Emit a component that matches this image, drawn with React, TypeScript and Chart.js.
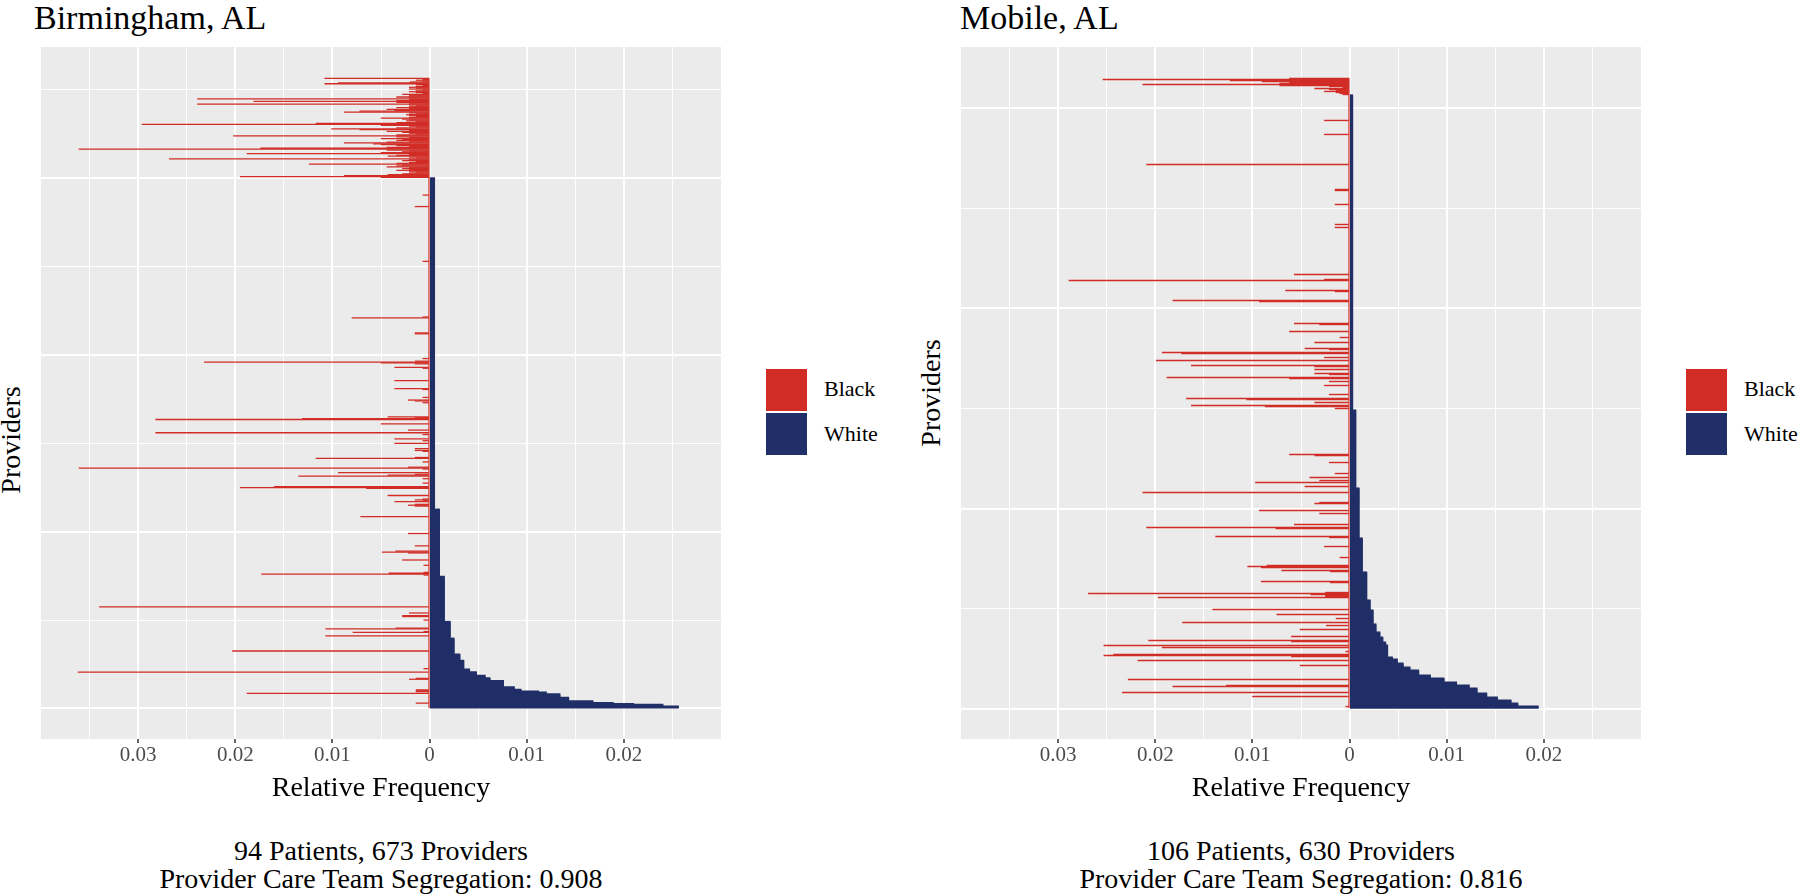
import React, { useEffect, useRef } from 'react';
import { Chart, registerables } from 'chart.js';

Chart.register(...registerables);

const RED = '#D12D26';
const NAVY = '#202F67';
const PANEL_BG = '#EBEBEB';
const FONT = "'Liberation Serif', 'Times New Roman', Times, serif";

// ---------------- Birmingham, AL ----------------
const bhmTitle = 'Birmingham, AL';
const bhmCaption = ['94 Patients, 673 Providers', 'Provider Care Team Segregation: 0.908'];
const bhmProviderCount = 713;
// providers with Black patients only, listed from the top row downwards
const bhmBlackOnly = [
  0.0108, 0.0007, 0.0014, 0.0007, 0.0020, 0.0094, 0.0108, 0.0014, 0.0007, 0.0014,
  0.0021, 0.0014, 0.0021, 0.0007, 0.0014, 0.0021, 0.0014, 0.0007, 0.0028, 0.0021,
  0.0021, 0.0034, 0.0021, 0.0239, 0.0021, 0.0034, 0.0181, 0.0034, 0.0021, 0.0239,
  0.0021, 0.0014, 0.0021, 0.0034, 0.0021, 0.0044, 0.0036, 0.0072, 0.0088, 0.0021,
  0.0014, 0.0024, 0.0021, 0.0014, 0.0021, 0.0050, 0.0028, 0.0021, 0.0024, 0.0014,
  0.0034, 0.0117, 0.0296, 0.0050, 0.0021, 0.0014, 0.0034, 0.0101, 0.0072, 0.0021,
  0.0044, 0.0028, 0.0021, 0.0014, 0.0034, 0.0202, 0.0034, 0.0021, 0.0050, 0.0028,
  0.0034, 0.0021, 0.0044, 0.0088, 0.0058, 0.0050, 0.0034, 0.0021, 0.0044, 0.0174,
  0.0361, 0.0044, 0.0021, 0.0028, 0.0050, 0.0188, 0.0021, 0.0034, 0.0043, 0.0021,
  0.0014, 0.0268, 0.0021, 0.0028, 0.0014, 0.0021, 0.0034, 0.0124, 0.0028, 0.0034,
  0.0044, 0.0021, 0.0028, 0.0021, 0.0034, 0.0021, 0.0014, 0.0021, 0.0028, 0.0043,
  0.0088, 0.0195, 0.0050,
];
// White relative frequency, runs of equal values starting from the bottom provider
const bhmWhiteRunValues = [
  0.0256, 0.0240, 0.0210, 0.0189, 0.0168, 0.0143, 0.0134, 0.0120, 0.0112, 0.0094,
  0.0087, 0.0076, 0.0062, 0.0057, 0.0048, 0.0041, 0.0035, 0.0031, 0.0025, 0.0021,
  0.0015, 0.0010, 0.0005,
];
const bhmWhiteRunLengths = [2, 2, 1, 1, 2, 4, 4, 2, 1, 2, 3, 7, 3, 3, 4, 3, 10, 7, 18, 19, 51, 76, 375];
// Black relative frequency of providers that also see White patients (provider rank from bottom)
const bhmMixedRanks = [
  581, 568, 506, 443, 442, 425, 424, 396, 393, 392, 391, 390, 386, 385, 371, 362, 361, 352, 349, 348,
  346, 330, 329, 328, 327, 322, 315, 312, 310, 305, 303, 300, 294, 292, 291, 284, 283, 279, 273, 272,
  271, 267, 265, 264, 263, 260, 255, 251, 250, 249, 241, 237, 236, 235, 234, 231, 230, 229, 217, 198,
  184, 178, 177, 176, 168, 162, 154, 153, 152, 151, 115, 108, 105, 104, 100, 91, 90, 87, 86, 82,
  65, 45, 41, 34, 33, 21, 20, 19, 17, 6,
];
const bhmMixedBlack = [
  0.0007, 0.0015, 0.0007, 0.0007, 0.0080, 0.0015, 0.0015, 0.0007, 0.0015, 0.0232,
  0.0050, 0.0015, 0.0036, 0.0007, 0.0036, 0.0036, 0.0007, 0.0007, 0.0022, 0.0015,
  0.0007, 0.0043, 0.0015, 0.0131, 0.0282, 0.0050, 0.0022, 0.0282, 0.0007, 0.0036,
  0.0007, 0.0036, 0.0015, 0.0015, 0.0007, 0.0015, 0.0117, 0.0007, 0.0022, 0.0361,
  0.0007, 0.0094, 0.0015, 0.0043, 0.0135, 0.0007, 0.0007, 0.0160, 0.0195, 0.0065,
  0.0043, 0.0007, 0.0015, 0.0007, 0.0036, 0.0015, 0.0022, 0.0015, 0.0071, 0.0022,
  0.0015, 0.0035, 0.0049, 0.0022, 0.0028, 0.0006, 0.0006, 0.0042, 0.0173, 0.0006,
  0.0340, 0.0021, 0.0028, 0.0028, 0.0006, 0.0035, 0.0107, 0.0006, 0.0079, 0.0107,
  0.0203, 0.0006, 0.0362, 0.0014, 0.0021, 0.0014, 0.0014, 0.0014, 0.0188, 0.0014,
];

// ---------------- Mobile, AL ----------------
const mobTitle = 'Mobile, AL';
const mobCaption = ['106 Patients, 630 Providers', 'Provider Care Team Segregation: 0.816'];
const mobProviderCount = 630;
const mobBlackOnly = [
  0.0062, 0.0254, 0.0123, 0.0090, 0.0062, 0.0072, 0.0213, 0.0072, 0.0021, 0.0007,
  0.0036, 0.0021, 0.0014, 0.0026, 0.0014, 0.0010, 0.0007,
];
const mobWhiteRunValues = [
  0.0194, 0.0173, 0.0166, 0.0152, 0.0141, 0.0131, 0.0123, 0.0110, 0.0097, 0.0083,
  0.0071, 0.0062, 0.0055, 0.0049, 0.0044, 0.0039, 0.0037, 0.0034, 0.0031, 0.0027,
  0.0024, 0.0021, 0.00175, 0.0013, 0.00096, 0.00062, 0.0003,
];
const mobWhiteRunLengths = [2, 3, 3, 3, 4, 5, 3, 3, 4, 3, 5, 3, 4, 4, 2, 12, 3, 5, 5, 8, 14, 10, 28, 34, 50, 78, 315];
const mobMixedRanks = [
  588, 574, 544, 519, 518, 504, 484, 481, 434, 429, 428, 418, 417, 408, 407, 385, 384, 377, 371, 366,
  360, 359, 356, 355, 351, 348, 343, 342, 339, 335, 334, 331, 330, 327, 323, 314, 310, 309, 306, 303,
  302, 300, 254, 253, 246, 235, 231, 228, 226, 222, 216, 206, 205, 198, 195, 184, 181, 180, 172, 171,
  162, 151, 143, 142, 141, 138, 137, 127, 126, 116, 115, 114, 113, 112, 111, 99, 94, 90, 86, 83,
  79, 72, 68, 67, 63, 61, 57, 54, 53, 52, 48, 43, 29, 23, 22, 16, 12, 2,
];
const mobMixedBlack = [
  0.0026, 0.0026, 0.0209, 0.0015, 0.0015, 0.0015, 0.0015, 0.0015, 0.0057, 0.0026,
  0.0289, 0.0066, 0.0015, 0.0182, 0.0093, 0.0057, 0.0031, 0.0062, 0.0010, 0.0036,
  0.0046, 0.0021, 0.0193, 0.0173, 0.0026, 0.0199, 0.0163, 0.0036, 0.0036, 0.0036,
  0.0021, 0.0188, 0.0062, 0.0021, 0.0026, 0.0021, 0.0168, 0.0106, 0.0036, 0.0163,
  0.0087, 0.0015, 0.0062, 0.0036, 0.0021, 0.0015, 0.0041, 0.0031, 0.0097, 0.0046,
  0.0213, 0.0031, 0.0036, 0.0093, 0.0031, 0.0057, 0.0209, 0.0076, 0.0138, 0.0021,
  0.0026, 0.0010, 0.0085, 0.0105, 0.0091, 0.0070, 0.0020, 0.0091, 0.0020, 0.0025,
  0.0269, 0.0040, 0.0025, 0.0025, 0.0197, 0.0141, 0.0075, 0.0014, 0.0172, 0.0024,
  0.0051, 0.0060, 0.0207, 0.0060, 0.0253, 0.0193, 0.0004, 0.0243, 0.0253, 0.0060,
  0.0218, 0.0051, 0.0228, 0.0127, 0.0182, 0.0234, 0.0100, 0.0004,
];

// ---------------- Axes ----------------
const xMajorTicks = [-0.03, -0.02, -0.01, 0, 0.01, 0.02];
const xTickLabels = ['0.03', '0.02', '0.01', '0', '0.01', '0.02'];
const xMinorTicks = [-0.04, -0.035, -0.025, -0.015, -0.005, 0.005, 0.015, 0.025, 0.03];
const xLimits = [-0.0401, 0.0301];
const yMajorTicks = [0, 200, 400, 600];
const yMinorTicks = [100, 300, 500, 700];
const legendLabels = ['Black', 'White'];

const near = (a: number, b: number) => Math.abs(a - b) < 1e-9;
const isXMajor = (v: number) => xMajorTicks.some((m) => near(m, v));
const isYMajor = (v: number) => yMajorTicks.some((m) => near(m, v));

type Spec = {
  x0: number;
  titleX: number;
  yTitleCy: number;
  n: number;
  blackOnly: number[];
  runValues: number[];
  runLengths: number[];
  mixedRanks: number[];
  mixedBlack: number[];
};

function buildData(spec: Spec) {
  const white: { x: number; y: number }[] = [];
  let rank = 1;
  spec.runValues.forEach((v, i) => {
    for (let k = 0; k < spec.runLengths[i]; k++) {
      white.push({ x: v, y: rank });
      rank++;
    }
  });
  const black: { x: number; y: number }[] = [];
  spec.mixedRanks.forEach((r, i) => black.push({ x: -spec.mixedBlack[i], y: r }));
  spec.blackOnly.forEach((v, i) => black.push({ x: -v, y: spec.n - i }));
  return { white, black };
}

const panelBgPlugin = {
  id: 'panelBg',
  beforeDraw(chart: any) {
    const { ctx, chartArea: a } = chart;
    ctx.save();
    ctx.fillStyle = PANEL_BG;
    ctx.fillRect(a.left, a.top, a.right - a.left, a.bottom - a.top);
    ctx.restore();
  },
};

// thin red outline of the zero-length Black bars along x = 0
const zeroOutlinePlugin = {
  id: 'zeroOutline',
  afterDatasetsDraw(chart: any, _args: any, opts: any) {
    const { ctx, scales } = chart;
    const x = scales.x.getPixelForValue(0);
    const yTop = scales.y.getPixelForValue(opts.n + 0.5);
    const yBottom = scales.y.getPixelForValue(0.5);
    ctx.save();
    ctx.fillStyle = RED;
    ctx.fillRect(x - 1.2, yTop, 1.2, yBottom - yTop);
    ctx.restore();
  },
};

const CANVAS_W = 702;
const CANVAS_H = 766;

function Panel({ spec }: { spec: Spec }) {
  const ref = useRef<HTMLCanvasElement>(null);
  useEffect(() => {
    const { white, black } = buildData(spec);
    const spread = 0.05 * (spec.n - 1);
    const yMin = 1 - spread;
    const yMax = spec.n + spread;
    const chart = new Chart(ref.current as HTMLCanvasElement, {
      type: 'bar',
      data: {
        datasets: [
          {
            label: legendLabels[0],
            data: black as any,
            backgroundColor: RED,
            borderWidth: 0,
            grouped: false,
            barPercentage: 1,
            categoryPercentage: 1,
            inflateAmount: 0.2,
          } as any,
          {
            label: legendLabels[1],
            data: white as any,
            backgroundColor: NAVY,
            borderWidth: 0,
            grouped: false,
            barPercentage: 1,
            categoryPercentage: 1,
            inflateAmount: 0.6,
          } as any,
        ],
      },
      options: {
        indexAxis: 'y',
        responsive: false,
        animation: false,
        devicePixelRatio: 1,
        layout: { padding: { left: 10, right: 10, top: 10, bottom: 0 } },
        plugins: {
          legend: { display: false },
          tooltip: { enabled: false },
          title: { display: false },
          zeroOutline: { n: spec.n },
        },
        scales: {
          x: {
            type: 'linear',
            min: xLimits[0],
            max: xLimits[1],
            offset: false,
            afterBuildTicks: (scale: any) => {
              scale.ticks = [...xMajorTicks, ...xMinorTicks]
                .filter((v) => v >= scale.min && v <= scale.max)
                .sort((a, b) => a - b)
                .map((v) => ({ value: v }));
            },
            afterFit: (scale: any) => {
              scale.height = 64;
            },
            border: { display: false },
            grid: {
              color: '#FFFFFF',
              lineWidth: (ctx: any) => (ctx.tick && isXMajor(ctx.tick.value) ? 2 : 1),
              drawTicks: true,
              tickLength: 4,
              tickWidth: 1.5,
              tickColor: (ctx: any) => (ctx.tick && isXMajor(ctx.tick.value) ? '#333333' : 'rgba(0,0,0,0)'),
            },
            ticks: {
              autoSkip: false,
              maxRotation: 0,
              minRotation: 0,
              padding: 1.5,
              color: '#4D4D4D',
              font: { family: FONT, size: 21, lineHeight: 1 },
              callback: (value: any) => {
                const i = xMajorTicks.findIndex((m) => near(m, Number(value)));
                return i >= 0 ? xTickLabels[i] : '';
              },
            },
            title: {
              display: true,
              text: 'Relative Frequency',
              color: '#000000',
              font: { family: FONT, size: 28, lineHeight: 1 },
              padding: { top: 0, bottom: 0 },
            },
          },
          y: {
            type: 'linear',
            min: yMin,
            max: yMax,
            offset: false,
            afterBuildTicks: (scale: any) => {
              scale.ticks = [...yMajorTicks, ...yMinorTicks]
                .filter((v) => v >= scale.min && v <= scale.max)
                .sort((a, b) => a - b)
                .map((v) => ({ value: v }));
            },
            afterFit: (scale: any) => {
              scale.width = 0;
            },
            border: { display: false },
            grid: {
              color: '#FFFFFF',
              offset: false,
              drawTicks: false,
              lineWidth: (ctx: any) => (ctx.tick && isYMajor(ctx.tick.value) ? 2 : 1),
            },
            ticks: { display: false },
          },
        } as any,
      },
      plugins: [panelBgPlugin, zeroOutlinePlugin],
    } as any);
    return () => chart.destroy();
  }, [spec]);
  return (
    <canvas
      ref={ref}
      width={CANVAS_W}
      height={CANVAS_H}
      style={{ position: 'absolute', left: spec.x0 - 10, top: 37, width: CANVAS_W, height: CANVAS_H }}
    />
  );
}

function Decorations({ spec, title, caption }: { spec: Spec; title: string; caption: string[] }) {
  const x0 = spec.x0;
  const keyLeft = x0 + 726;
  return (
    <>
      <div
        style={{
          position: 'absolute', left: spec.titleX, top: 1, fontFamily: FONT, fontSize: 34,
          lineHeight: '34px', color: '#000', whiteSpace: 'nowrap',
        }}
      >
        {title}
      </div>
      <div
        style={{
          position: 'absolute', left: x0 - 29 - 100, top: spec.yTitleCy - 14, width: 200, height: 28,
          fontFamily: FONT, fontSize: 28, lineHeight: '28px', textAlign: 'center',
          transform: 'rotate(-90deg)', color: '#000', whiteSpace: 'nowrap',
        }}
      >
        Providers
      </div>
      <div style={{ position: 'absolute', left: keyLeft, top: 369, width: 41, height: 42, background: RED }} />
      <div style={{ position: 'absolute', left: keyLeft, top: 413, width: 41, height: 42, background: NAVY }} />
      <div
        style={{
          position: 'absolute', left: keyLeft + 58, top: 378, fontFamily: FONT, fontSize: 22,
          lineHeight: '22px', color: '#000', whiteSpace: 'nowrap',
        }}
      >
        {legendLabels[0]}
      </div>
      <div
        style={{
          position: 'absolute', left: keyLeft + 58, top: 423, fontFamily: FONT, fontSize: 22,
          lineHeight: '22px', color: '#000', whiteSpace: 'nowrap',
        }}
      >
        {legendLabels[1]}
      </div>
      <div
        style={{
          position: 'absolute', left: x0, top: 837, width: 682, fontFamily: FONT, fontSize: 28,
          lineHeight: '28px', textAlign: 'center', color: '#000', whiteSpace: 'nowrap',
        }}
      >
        <div>{caption[0]}</div>
        <div>{caption[1]}</div>
      </div>
    </>
  );
}

const bhmSpec: Spec = {
  x0: 40,
  titleX: 34,
  yTitleCy: 440,
  n: bhmProviderCount,
  blackOnly: bhmBlackOnly,
  runValues: bhmWhiteRunValues,
  runLengths: bhmWhiteRunLengths,
  mixedRanks: bhmMixedRanks,
  mixedBlack: bhmMixedBlack,
};

const mobSpec: Spec = {
  x0: 960,
  titleX: 960,
  yTitleCy: 393,
  n: mobProviderCount,
  blackOnly: mobBlackOnly,
  runValues: mobWhiteRunValues,
  runLengths: mobWhiteRunLengths,
  mixedRanks: mobMixedRanks,
  mixedBlack: mobMixedBlack,
};

export default function App() {
  return (
    <div
      style={{
        position: 'absolute', left: 0, top: 0, width: 1800, height: 896,
        background: '#FFFFFF', overflow: 'hidden',
      }}
    >
      <Panel spec={bhmSpec} />
      <Panel spec={mobSpec} />
      <Decorations spec={bhmSpec} title={bhmTitle} caption={bhmCaption} />
      <Decorations spec={mobSpec} title={mobTitle} caption={mobCaption} />
    </div>
  );
}
